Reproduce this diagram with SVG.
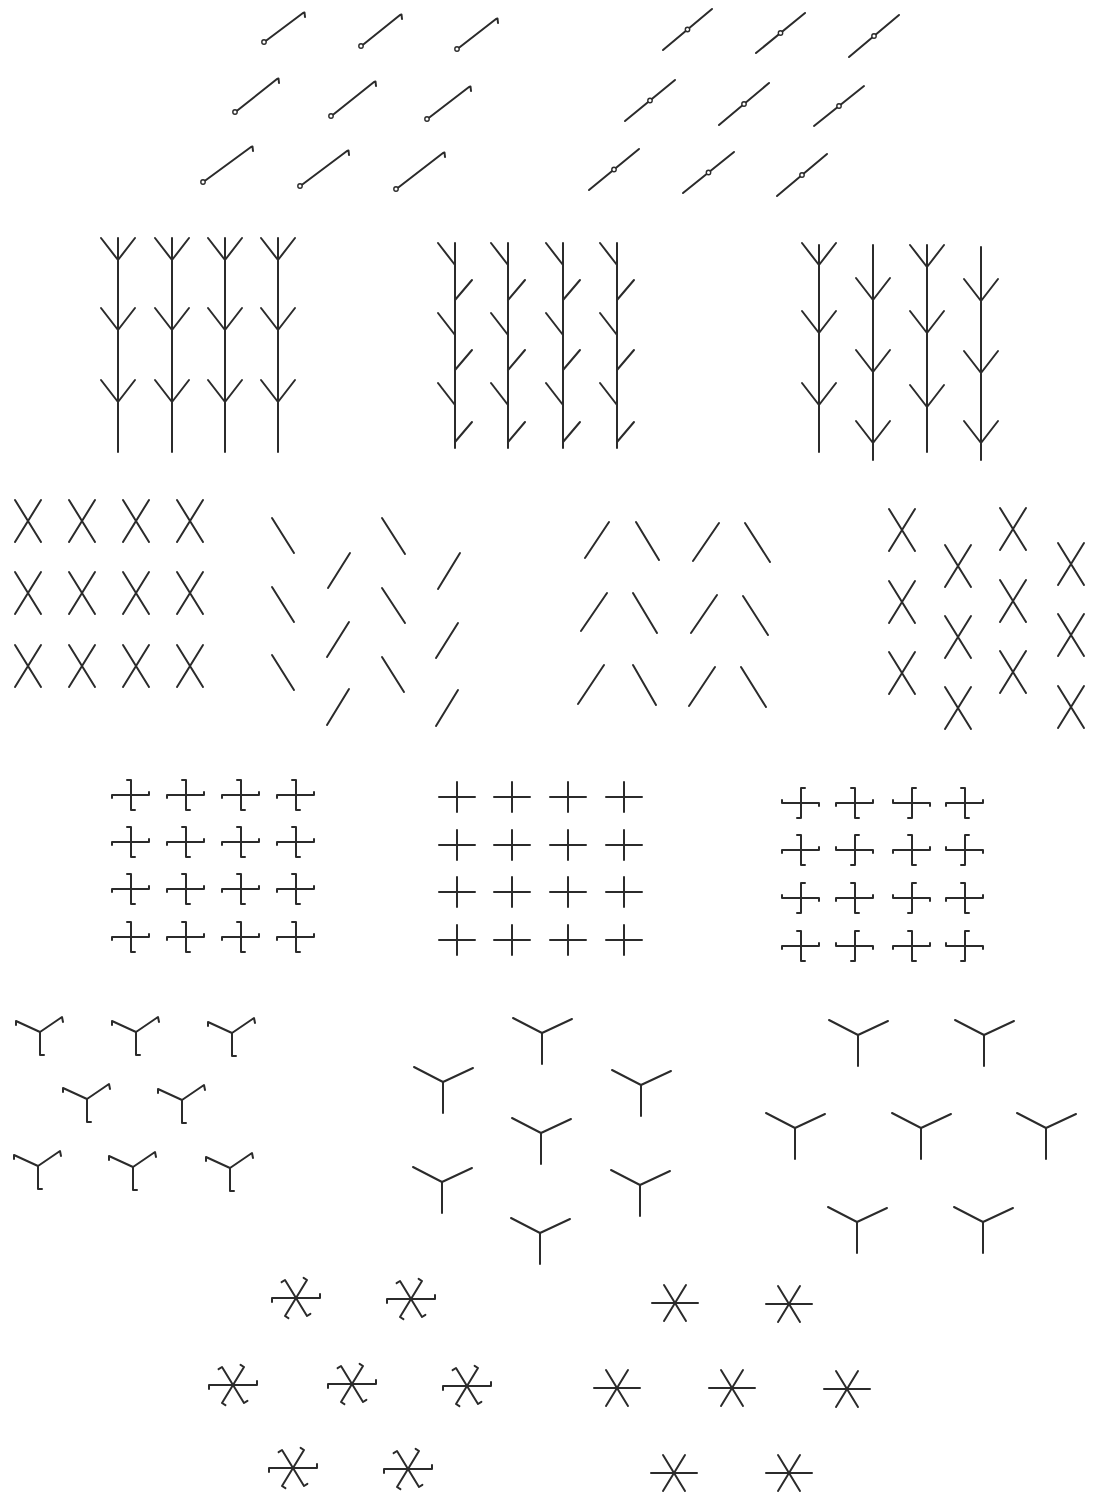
<svg xmlns="http://www.w3.org/2000/svg" width="1094" height="1495" viewBox="0 0 1094 1495">
<style>
.s{stroke:#2b2b2b;stroke-width:2;fill:none;stroke-linecap:round;stroke-linejoin:round}
.c{stroke:#2b2b2b;stroke-width:1.4;fill:#fff}
</style>
<defs>
<path id="fk" d="M-17,-22 L0,0 L17,-22"/>
<path id="lb" d="M-17,-22 L0,0"/>
<path id="rb" d="M17,-20 L0,0"/>
<path id="x" d="M-13,-21 L13,21 M13,-21 L-13,21"/>
<path id="cp" d="M-18,0 H18 M0,-15 V15"/>
<path id="ccw" d="M-19,3 V0 H18 V-3 M-4,-15 H0 V15 H4"/>
<path id="cw" d="M-19,-3 V0 H18 V3 M4,-15 H0 V15 H-4"/>
<path id="yh" d="M-24,-7 L-24,-11 L0,0 L22,-15 L23,-10 M0,0 V23 H4"/>
<path id="yp" d="M-29,-15 L0,0 L30,-14 M0,0 V31"/>
<path id="ah" d="M-24,4 V0 H24 V-4 M-14.4,-15.9 L-11,-18 L11,18 L14.4,15.9 M7.6,-20.1 L11,-18 L-11,18 L-7.6,20.1"/>
<path id="ap" d="M-23,0 H23 M-11,-18 L11,18 M11,-18 L-11,18"/>
</defs>
<rect width="1094" height="1495" fill="#fff"/>

<g id="hooked-lines" class="s">
<path d="M266,40.8 L303,13 l1.5,-0.5 l0.5,4.5"/>
<path d="M363,44.8 L400,15 l1.5,-0.5 l0.5,4.5"/>
<path d="M459,47.8 L496,19 l1.5,-0.5 l0.5,4.5"/>
<path d="M237,110.8 L277,79 l1.5,-0.5 l0.5,4.5"/>
<path d="M333,114.8 L374,82 l1.5,-0.5 l0.5,4.5"/>
<path d="M429,117.8 L469,87 l1.5,-0.5 l0.5,4.5"/>
<path d="M205,180.8 L251,147 l1.5,-0.5 l0.5,4.5"/>
<path d="M302,184.8 L347,151 l1.5,-0.5 l0.5,4.5"/>
<path d="M398,187.8 L443,153 l1.5,-0.5 l0.5,4.5"/>
</g>
<g id="hooked-line-ends">
<circle class="c" cx="264" cy="42" r="2.2"/>
<circle class="c" cx="361" cy="46" r="2.2"/>
<circle class="c" cx="457" cy="49" r="2.2"/>
<circle class="c" cx="235" cy="112" r="2.2"/>
<circle class="c" cx="331" cy="116" r="2.2"/>
<circle class="c" cx="427" cy="119" r="2.2"/>
<circle class="c" cx="203" cy="182" r="2.2"/>
<circle class="c" cx="300" cy="186" r="2.2"/>
<circle class="c" cx="396" cy="189" r="2.2"/>
</g>

<g id="mid-circle-lines">
<g class="s">
<path d="M663,50 L712,9"/><path d="M756,53 L805,13"/><path d="M849,57 L899,15"/>
<path d="M625,121 L675,80"/><path d="M719,125 L769,83"/><path d="M814,126 L864,86"/>
<path d="M589,190 L639,149"/><path d="M683,193 L734,152"/><path d="M777,196 L827,154"/>
</g>
<circle class="c" cx="687.5" cy="29.5" r="2.2"/><circle class="c" cx="780.5" cy="33" r="2.2"/><circle class="c" cx="874" cy="36" r="2.2"/>
<circle class="c" cx="650" cy="100.5" r="2.2"/><circle class="c" cx="744" cy="104" r="2.2"/><circle class="c" cx="839" cy="106" r="2.2"/>
<circle class="c" cx="614" cy="169.5" r="2.2"/><circle class="c" cx="708.5" cy="172.5" r="2.2"/><circle class="c" cx="802" cy="175" r="2.2"/>
</g>

<g id="trees-left" class="s">
<path d="M118,238 V452 M172,238 V452 M225,238 V452 M278,238 V452"/>
<use href="#fk" x="118" y="260"/><use href="#fk" x="118" y="330"/><use href="#fk" x="118" y="402"/>
<use href="#fk" x="172" y="260"/><use href="#fk" x="172" y="330"/><use href="#fk" x="172" y="402"/>
<use href="#fk" x="225" y="260"/><use href="#fk" x="225" y="330"/><use href="#fk" x="225" y="402"/>
<use href="#fk" x="278" y="260"/><use href="#fk" x="278" y="330"/><use href="#fk" x="278" y="402"/>
</g>

<g id="trees-middle" class="s">
<path d="M455,243 V448 M508,243 V448 M563,243 V448 M617,243 V448"/>
<use href="#lb" x="455" y="265"/><use href="#rb" x="455" y="300"/><use href="#lb" x="455" y="335"/><use href="#rb" x="455" y="370"/><use href="#lb" x="455" y="405"/><use href="#rb" x="455" y="442"/>
<use href="#lb" x="508" y="265"/><use href="#rb" x="508" y="300"/><use href="#lb" x="508" y="335"/><use href="#rb" x="508" y="370"/><use href="#lb" x="508" y="405"/><use href="#rb" x="508" y="442"/>
<use href="#lb" x="563" y="265"/><use href="#rb" x="563" y="300"/><use href="#lb" x="563" y="335"/><use href="#rb" x="563" y="370"/><use href="#lb" x="563" y="405"/><use href="#rb" x="563" y="442"/>
<use href="#lb" x="617" y="265"/><use href="#rb" x="617" y="300"/><use href="#lb" x="617" y="335"/><use href="#rb" x="617" y="370"/><use href="#lb" x="617" y="405"/><use href="#rb" x="617" y="442"/>
</g>

<g id="trees-right" class="s">
<path d="M819,245 V452 M873,245 V460 M927,245 V452 M981,247 V460"/>
<use href="#fk" x="819" y="265"/><use href="#fk" x="819" y="333"/><use href="#fk" x="819" y="405"/>
<use href="#fk" x="873" y="300"/><use href="#fk" x="873" y="372"/><use href="#fk" x="873" y="443"/>
<use href="#fk" x="927" y="267"/><use href="#fk" x="927" y="333"/><use href="#fk" x="927" y="407"/>
<use href="#fk" x="981" y="301"/><use href="#fk" x="981" y="373"/><use href="#fk" x="981" y="443"/>
</g>

<g id="x-grid" class="s">
<use href="#x" x="28" y="521"/><use href="#x" x="82" y="521"/><use href="#x" x="136" y="521"/><use href="#x" x="190" y="521"/>
<use href="#x" x="28" y="593"/><use href="#x" x="82" y="593"/><use href="#x" x="136" y="593"/><use href="#x" x="190" y="593"/>
<use href="#x" x="28" y="666"/><use href="#x" x="82" y="666"/><use href="#x" x="136" y="666"/><use href="#x" x="190" y="666"/>
</g>

<g id="split-strokes" class="s">
<path d="M272,518 L294,553 M382,518 L405,554 M272,587 L294,622 M382,588 L405,623 M272,655 L294,690 M382,657 L404,692"/>
<path d="M328,588 L350,553 M438,589 L460,553 M327,657 L349,622 M436,658 L458,623 M327,725 L349,689 M436,726 L458,690"/>
</g>

<g id="chevron-strokes" class="s">
<path d="M585,558 L609,522 M636,522 L659,560 M693,561 L719,523 M745,523 L770,562"/>
<path d="M581,631 L607,593 M633,593 L657,633 M691,633 L717,595 M743,596 L768,635"/>
<path d="M578,704 L604,665 M633,665 L656,705 M689,706 L715,667 M741,667 L766,707"/>
</g>

<g id="x-staggered" class="s">
<use href="#x" x="902" y="530"/><use href="#x" x="902" y="602"/><use href="#x" x="902" y="673"/>
<use href="#x" x="958" y="566"/><use href="#x" x="958" y="637"/><use href="#x" x="958" y="708"/>
<use href="#x" x="1013" y="529"/><use href="#x" x="1013" y="601"/><use href="#x" x="1013" y="672"/>
<use href="#x" x="1071" y="564"/><use href="#x" x="1071" y="635"/><use href="#x" x="1071" y="707"/>
</g>

<g id="crosses-left" class="s">
<use href="#ccw" x="131" y="795"/><use href="#ccw" x="186" y="795"/><use href="#ccw" x="241" y="795"/><use href="#ccw" x="296" y="795"/>
<use href="#ccw" x="131" y="842"/><use href="#ccw" x="186" y="842"/><use href="#ccw" x="241" y="842"/><use href="#ccw" x="296" y="842"/>
<use href="#ccw" x="131" y="889"/><use href="#ccw" x="186" y="889"/><use href="#ccw" x="241" y="889"/><use href="#ccw" x="296" y="889"/>
<use href="#ccw" x="131" y="937"/><use href="#ccw" x="186" y="937"/><use href="#ccw" x="241" y="937"/><use href="#ccw" x="296" y="937"/>
</g>

<g id="crosses-middle" class="s">
<use href="#cp" x="457" y="797"/><use href="#cp" x="512" y="797"/><use href="#cp" x="568" y="797"/><use href="#cp" x="624" y="797"/>
<use href="#cp" x="457" y="845"/><use href="#cp" x="512" y="845"/><use href="#cp" x="568" y="845"/><use href="#cp" x="624" y="845"/>
<use href="#cp" x="457" y="892"/><use href="#cp" x="512" y="892"/><use href="#cp" x="568" y="892"/><use href="#cp" x="624" y="892"/>
<use href="#cp" x="457" y="940"/><use href="#cp" x="512" y="940"/><use href="#cp" x="568" y="940"/><use href="#cp" x="624" y="940"/>
</g>

<g id="crosses-right" class="s">
<use href="#cw" x="801" y="803"/><use href="#ccw" x="855" y="803"/><use href="#cw" x="912" y="803"/><use href="#ccw" x="965" y="803"/>
<use href="#ccw" x="801" y="850"/><use href="#cw" x="855" y="850"/><use href="#ccw" x="912" y="850"/><use href="#cw" x="965" y="850"/>
<use href="#cw" x="801" y="898"/><use href="#ccw" x="855" y="898"/><use href="#cw" x="912" y="898"/><use href="#ccw" x="965" y="898"/>
<use href="#ccw" x="801" y="946"/><use href="#cw" x="855" y="946"/><use href="#ccw" x="912" y="946"/><use href="#cw" x="965" y="946"/>
</g>

<g id="y-hooked" class="s">
<use href="#yh" x="40" y="1032"/><use href="#yh" x="136" y="1032"/><use href="#yh" x="232" y="1033"/>
<use href="#yh" x="87" y="1099"/><use href="#yh" x="182" y="1100"/>
<use href="#yh" x="38" y="1166"/><use href="#yh" x="133" y="1167"/><use href="#yh" x="230" y="1168"/>
</g>

<g id="y-middle" class="s">
<use href="#yp" x="542" y="1033"/><use href="#yp" x="443" y="1082"/><use href="#yp" x="641" y="1085"/>
<use href="#yp" x="541" y="1133"/><use href="#yp" x="442" y="1182"/><use href="#yp" x="640" y="1185"/>
<use href="#yp" x="540" y="1233"/>
</g>

<g id="y-right" class="s">
<use href="#yp" x="858" y="1035"/><use href="#yp" x="984" y="1035"/>
<use href="#yp" x="795" y="1128"/><use href="#yp" x="921" y="1128"/><use href="#yp" x="1046" y="1128"/>
<use href="#yp" x="857" y="1222"/><use href="#yp" x="983" y="1222"/>
</g>

<g id="asterisks-hooked" class="s">
<use href="#ah" x="296" y="1298"/><use href="#ah" x="411" y="1299"/>
<use href="#ah" x="233" y="1385"/><use href="#ah" x="352" y="1384"/><use href="#ah" x="467" y="1386"/>
<use href="#ah" x="293" y="1468"/><use href="#ah" x="408" y="1469"/>
</g>

<g id="asterisks-plain" class="s">
<use href="#ap" x="675" y="1303"/><use href="#ap" x="789" y="1304"/>
<use href="#ap" x="617" y="1388"/><use href="#ap" x="732" y="1388"/><use href="#ap" x="847" y="1389"/>
<use href="#ap" x="674" y="1473"/><use href="#ap" x="789" y="1473"/>
</g>
</svg>
